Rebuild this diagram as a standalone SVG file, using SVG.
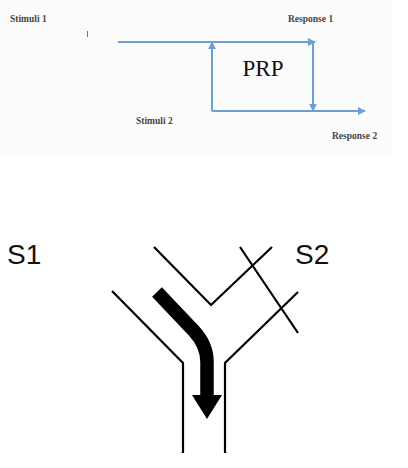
<svg xmlns="http://www.w3.org/2000/svg" width="408" height="468" viewBox="0 0 408 468">
<style>
.lbl{font-family:"Liberation Serif","DejaVu Serif",serif;font-size:9.5px;fill:#444;font-weight:bold}
.blue{stroke:#6e9fd2;stroke-width:2;fill:none}
.thin{stroke:#000;stroke-width:2.2;fill:none;stroke-linejoin:miter}
.big{font-family:"Liberation Sans",Arial,sans-serif;font-size:28px;fill:#111}
</style>
<defs>
<marker id="ah" viewBox="0 0 10 10" refX="9" refY="5" markerWidth="4" markerHeight="4" orient="auto" markerUnits="strokeWidth">
<path d="M0,0 L10,5 L0,10 z" fill="#6e9fd2"/>
</marker>
</defs>
<rect x="0" y="0" width="392" height="156" fill="#fcfcfc"/>
<g id="stimuli1"><text class="lbl" x="10" y="22">Stimuli 1</text></g>
<g id="tick"><line x1="87.5" y1="31" x2="87.5" y2="37" stroke="#777" stroke-width="1"/></g>
<g id="response1"><text class="lbl" x="288" y="22">Response 1</text></g>
<g id="stimuli2"><text class="lbl" x="136" y="124">Stimuli 2</text></g>
<g id="response2"><text class="lbl" x="332" y="139">Response 2</text></g>
<g id="prp"><text x="263" y="76" text-anchor="middle" font-family="Liberation Serif,serif" font-size="23" fill="#111">PRP</text></g>
<g id="connectors-top">
<line class="blue" x1="118" y1="42" x2="315" y2="42" marker-end="url(#ah)"/>
<line class="blue" x1="212" y1="111" x2="212" y2="42" marker-end="url(#ah)"/>
<line class="blue" x1="212" y1="111" x2="365" y2="111" marker-end="url(#ah)"/>
<line class="blue" x1="313" y1="42" x2="313" y2="111" marker-end="url(#ah)"/>
</g>
<g id="s1"><text class="big" x="7" y="264">S1</text></g>
<g id="s2"><text class="big" x="295" y="264">S2</text></g>
<g id="channel">
<polyline class="thin" points="112,291 183,363 183,453"/>
<polyline class="thin" points="298,292 225,363 225,453"/>
<polyline class="thin" points="154,247 211,305 272,247"/>
<line class="thin" x1="240" y1="247" x2="298" y2="333"/>
</g>
<g id="flow-arrow">
<path d="M157,292 L194,331 Q207,345 207,362 L207,396" stroke="#000" stroke-width="13.5" fill="none"/>
<polygon points="192,395 222,395 207,419" fill="#000"/>
</g>
</svg>
